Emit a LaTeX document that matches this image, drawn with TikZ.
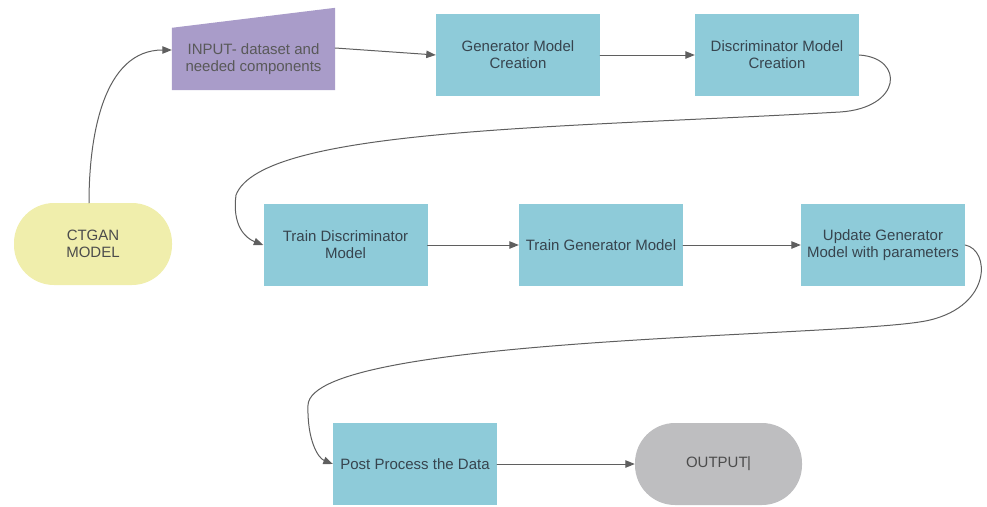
\documentclass[tikz,border=0pt]{standalone}
\usepackage{fontspec}
\setmainfont{Liberation Sans}
\usetikzlibrary{arrows.meta,backgrounds}
\definecolor{boxblue}{RGB}{142,203,217}
\definecolor{inpurple}{RGB}{169,156,201}
\definecolor{ctyellow}{RGB}{240,238,172}
\definecolor{outgray}{RGB}{190,190,192}
\definecolor{linegray}{RGB}{95,95,95}
\definecolor{txtgray}{RGB}{55,68,78}
\begin{document}
\begin{tikzpicture}[x=1pt,y=-1pt,line join=round,line cap=round,>={Triangle[length=9.5pt,width=7.5pt]}]
\tikzset{stage/.style={rectangle,fill=boxblue,minimum width=164pt,minimum height=82pt,inner sep=2pt,align=center,text=txtgray,font=\fontsize{15}{16.8}\selectfont},
  term/.style={stage,rounded corners=40pt},
  flow/.style={->,draw=linegray,line width=1pt}}
\useasboundingbox (0,0) rectangle (987,506);
% top row
\node[term,fill=ctyellow,minimum width=158pt,text=black!70] (ctgan) at (93,244) {CTGAN\\MODEL};
\node[stage,fill=none,minimum width=163pt,minimum height=62pt,text=black!65] (inp) at (253.5,59) {INPUT- dataset and\\needed components};
\begin{scope}[on background layer]
\fill[inpurple] (inp.south west) -- (inp.south east) -- ([yshift=20pt]inp.north east) -- (inp.north west) -- cycle;
\end{scope}
\node[stage] (gen) at (518,55) {Generator Model\\Creation};
\node[stage] (disc) at (777,55) {Discriminator Model\\Creation};
% middle row
\node[stage] (tdisc) at (345.5,245) {Train Discriminator\\Model};
\node[stage] (tgen) at (601,245) {Train Generator Model};
\node[stage] (upd) at (883,245) {Update Generator\\Model with parameters};
% bottom row
\node[stage] (post) at (415,464) {Post Process the Data};
\node[term,fill=outgray,minimum width=167pt,text=black!70] (out) at (718.5,464) {OUTPUT\kern-0.6pt|};
% connectors
\draw[flow] ([xshift=-4pt]ctgan.north) to[out=90,in=180] ([yshift=9pt]inp.west);
\draw[flow] ([yshift=11pt]inp.east) -- (gen.west);
\draw[flow] (gen.east) -- (disc.west);
\draw[flow] (disc.east) .. controls (905,58) and (902,108) .. (840,112)
  .. controls (560,128) and (262,128) .. (236,195)
  .. controls (232,225) and (245,238) .. (tdisc.west);
\draw[flow] (tdisc.east) -- (tgen.west);
\draw[flow] (tgen.east) -- (upd.west);
\draw[flow] (upd.east) .. controls (990,250) and (992,305) .. (930,320)
  .. controls (860,337.5) and (312,335) .. (308,405)
  .. controls (307,440) and (318,458) .. (post.west);
\draw[flow] (post.east) -- (out.west);
\end{tikzpicture}
\end{document}
